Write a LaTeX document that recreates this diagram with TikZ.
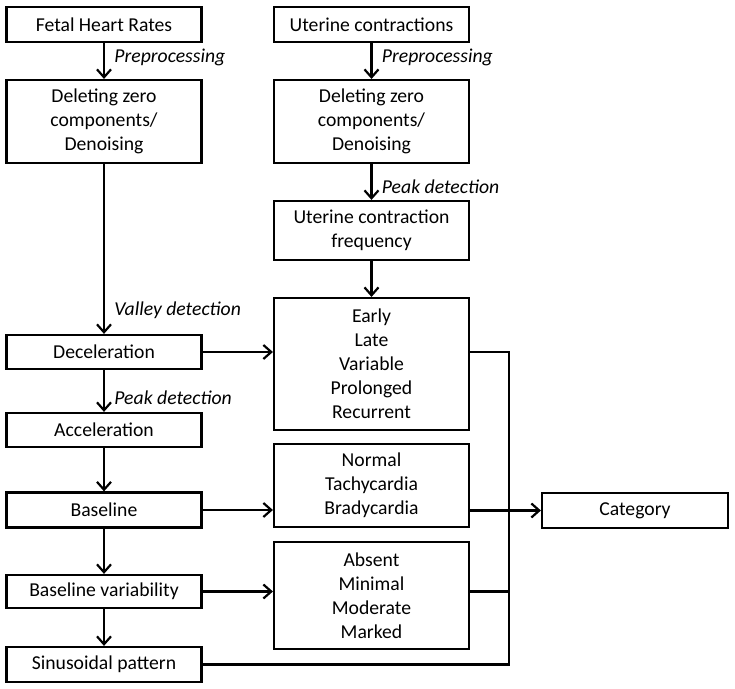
\documentclass[tikz,border=0pt]{standalone}
\usepackage{fontspec}
\setmainfont{Carlito}
\usetikzlibrary{arrows.meta}

\begin{document}
\begin{tikzpicture}[x=0.02cm,y=-0.02cm,->,>={Straight Barb[length=4.5pt,width=8pt]},
                    line width=1.25pt,font=\fontsize{11.2}{13.6}\selectfont]

  \tikzstyle{box}=[rectangle,draw,align=center,inner sep=2pt,
                   minimum width=3.9cm]
  \tikzstyle{lbl}=[anchor=west,font=\fontsize{11.2}{13.6}\selectfont\itshape,
                   draw=none,xshift=2pt]

  \useasboundingbox (0,0) rectangle (735,689);

  \node[box,minimum height=0.70cm] (FHR) at (104,24.5)   {Fetal Heart Rates};
  \node[box,minimum height=0.70cm] (UC)  at (371.5,24.5) {Uterine contractions};
  \node[box,minimum height=1.66cm] (DZF) at (104,121.5)  {Deleting zero \\ components/ \\ Denoising};
  \node[box,minimum height=1.66cm] (DZU) at (371.5,121.5){Deleting zero \\ components/ \\ Denoising};
  \node[box,minimum height=1.18cm] (UCF) at (371.5,230.5){Uterine contraction \\ frequency};
  \node[box,minimum height=0.68cm] (DEC) at (104,352)    {Deceleration};
  \node[box,minimum height=2.64cm] (DTY) at (371.5,364)  {Early \\ Late \\ Variable \\ Prolonged \\ Recurrent};
  \node[box,minimum height=0.68cm] (ACC) at (104,430)    {Acceleration};
  \node[box,minimum height=0.70cm] (BAS) at (104,510)    {Baseline};
  \node[box,minimum height=1.66cm] (BTY) at (371.5,485.5){Normal \\ Tachycardia \\ Bradycardia};
  \node[box,minimum height=0.70cm,minimum width=3.72cm] (CAT) at (635,510.5) {Category};
  \node[box,minimum height=0.66cm] (VAR) at (104,591.5)  {Baseline variability};
  \node[box,minimum height=2.14cm] (VTY) at (371.5,595.5){Absent \\ Minimal \\ Moderate \\ Marked};
  \node[box,minimum height=0.70cm] (SIN) at (104,664.5)  {Sinusoidal pattern};
  \coordinate (BUS) at (509,0);

  \path
  (FHR) edge node[lbl,pos=0.4]  {Preprocessing} (DZF)
  (DZF) edge node[lbl,pos=0.86] {Valley detection} (DEC)
  (DEC) edge node[lbl,pos=0.66] {Peak detection} (ACC)
  (ACC) edge (BAS)
  (BAS) edge (VAR)
  (VAR) edge (SIN)

  (UC)  edge node[lbl,pos=0.4]  {Preprocessing} (DZU)
  (DZU) edge node[lbl,pos=0.63] {Peak detection} (UCF)
  (UCF) edge (DTY)

  (DEC) edge (DEC -| DTY.west)
  (BAS) edge (BAS -| BTY.west)
  (VAR) edge (VAR -| VTY.west)
  (BTY.east |- CAT) edge (CAT.west)
  ;

  \draw[-] (DTY.east |- DEC) -| (BUS |- SIN) -- (SIN.east);
  \draw[-] (VTY.east |- VAR) -- (BUS |- VAR);
\end{tikzpicture}
\end{document}
